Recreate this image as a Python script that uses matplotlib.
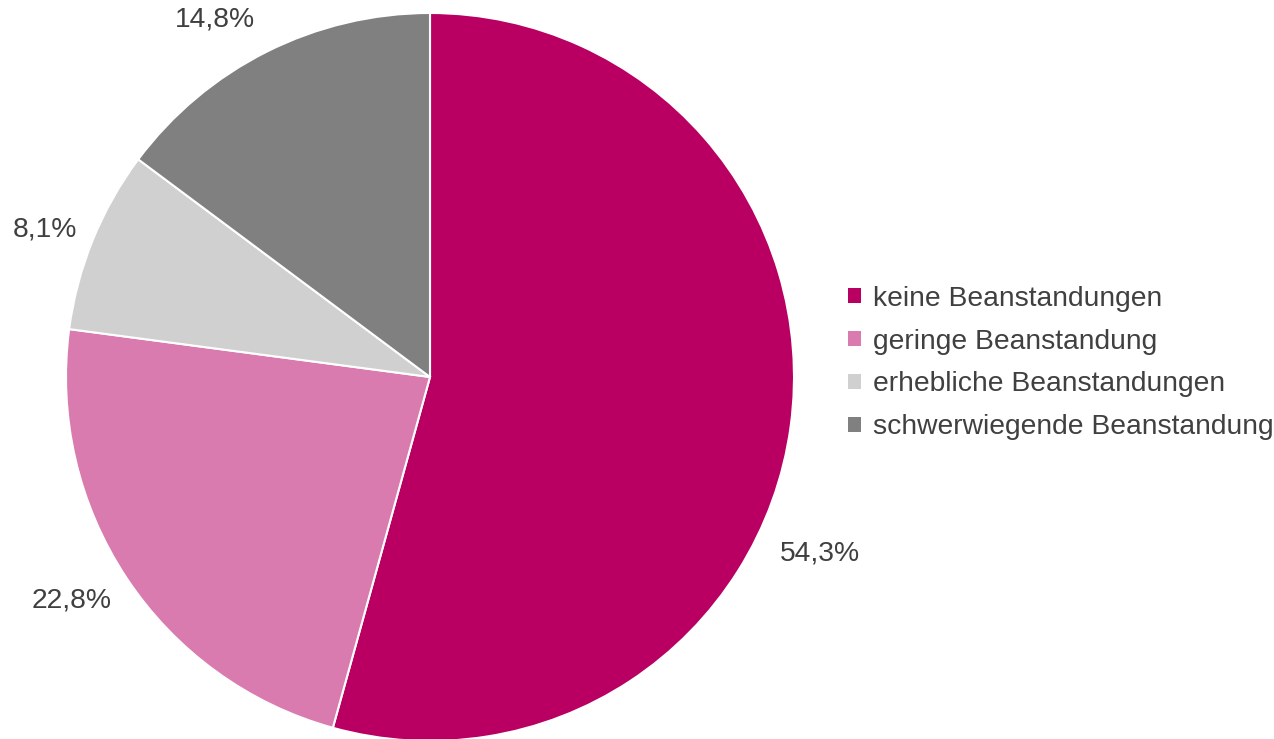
import matplotlib
matplotlib.use("Agg")
import matplotlib.pyplot as plt
from matplotlib.patches import Patch

categories = ["keine Beanstandungen", "geringe Beanstandung",
              "erhebliche Beanstandungen", "schwerwiegende Beanstandung"]
shares = [54.3, 22.8, 8.1, 14.8]
colors = ["#B90062", "#D97BAE", "#D0D0D0", "#808080"]
# label anchor points in pie data units (radius = 1)
label_pos = [(1.071, -0.484), (-0.984, -0.613), (-1.058, 0.404), (-0.591, 0.981)]

plt.rcParams["font.family"] = ["Liberation Sans", "DejaVu Sans"]
text_color = "#404040"
fsize = 20.3

fig = plt.figure(figsize=(12.74, 7.39), dpi=100)
ax = fig.add_axes([66 / 1274, -2 / 739, 728 / 1274, 728 / 739])
wedges, _ = ax.pie(shares, colors=colors, startangle=90, counterclock=False,
                   radius=1.0, wedgeprops=dict(edgecolor="white", linewidth=1.5))
ax.set_xlim(-1, 1)
ax.set_ylim(-1, 1)
ax.set_aspect("equal")

for v, (x, y) in zip(shares, label_pos):
    ax.text(x, y, f"{v:.1f}%".replace(".", ","), ha="center", va="center",
            fontsize=fsize, color=text_color, clip_on=False)

handles = [Patch(facecolor=c, edgecolor="none") for c in colors]
fig.legend(handles, categories, loc="center left", bbox_to_anchor=(848 / 1274, 1 - 363 / 739),
           frameon=False, fontsize=fsize, labelcolor=text_color, handlelength=0.46,
           handleheight=0.46, handletextpad=0.43, labelspacing=0.6,
           borderpad=0, borderaxespad=0)

fig.savefig("out.png", dpi=100)
